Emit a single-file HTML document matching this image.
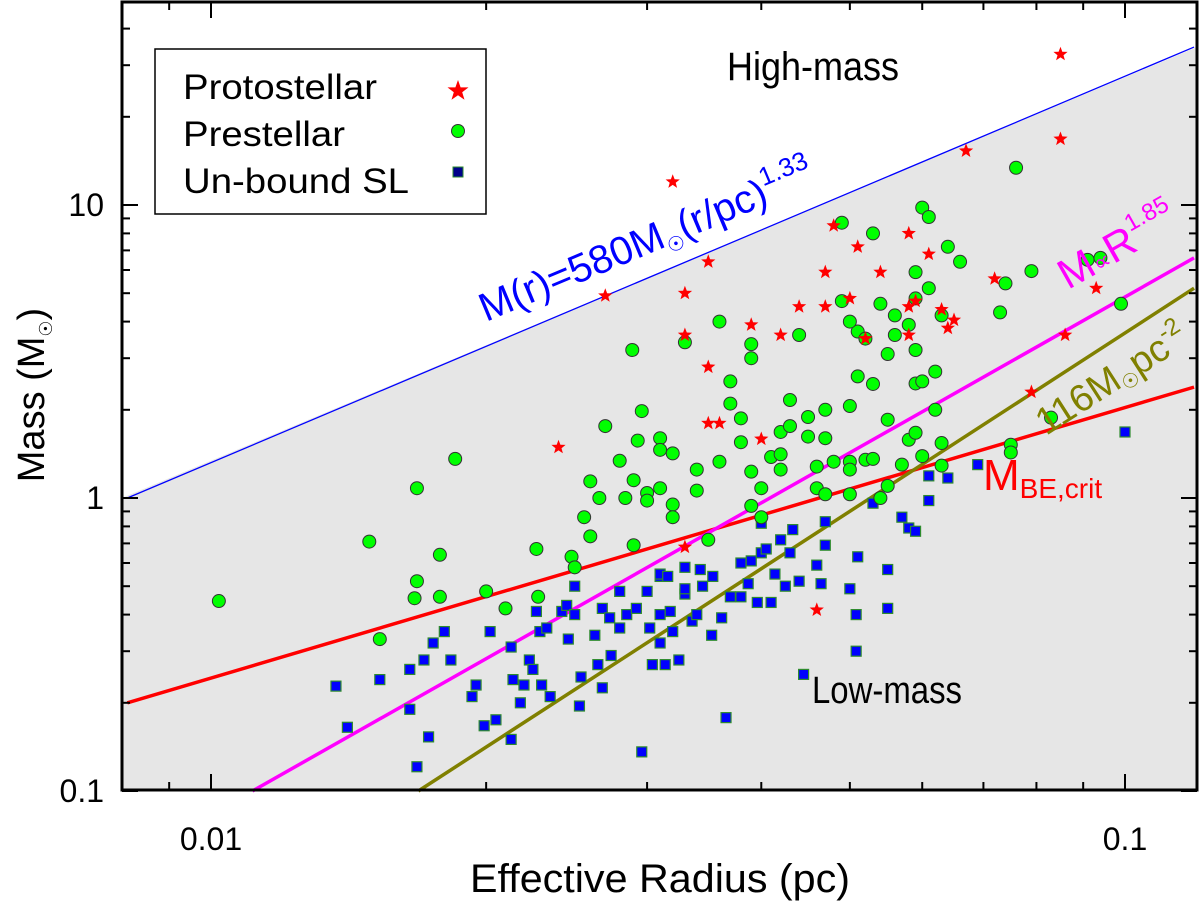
<!DOCTYPE html>
<html><head><meta charset="utf-8"><style>
body{margin:0;background:#fff;}
svg{display:block;font-family:"Liberation Sans",sans-serif;}
</style></head><body>
<svg id="chart" width="1200" height="909" xmlns="http://www.w3.org/2000/svg">
<g id="bg"></g><g id="lines"></g><g id="pts"></g><g id="axes"></g>
</svg>
<script>
const protoR=[0.085,0.085,0.067,0.032,0.027,0.035,0.033,0.048,0.058,0.061,0.051,0.054,0.047,0.050,0.047,0.044,0.058,0.063,0.059,0.065,0.064,0.058,0.052,0.072,0.093,0.086,0.079,0.039,0.033,0.042,0.035,0.035,0.036,0.040,0.024,0.033,0.046];
const protoM=[32.7,16.8,15.3,12.0,4.9,6.4,5.0,8.5,8.0,6.8,7.2,5.9,5.9,4.8,4.5,4.5,4.5,4.4,4.7,4.05,3.8,3.6,3.5,5.6,5.2,3.6,2.3,3.9,3.6,3.6,2.8,1.8,1.8,1.59,1.49,0.68,0.415];
const preR=[0.0102,0.0153,0.0168,0.0149,0.0168,0.0167,0.0178,0.0178,0.0185,0.0200,0.021,0.0228,0.0227,0.0248,0.025,0.026,0.0256,0.026,0.0266,0.027,0.028,0.029,0.0284,0.0289,0.0293,0.0296,0.030,0.030,0.029,0.031,0.031,0.031,0.032,0.032,0.032,0.033,0.034,0.035,0.034,0.036,0.036,0.037,0.037,0.038,0.038,0.039,0.039,0.039,0.039,0.040,0.040,0.041,0.042,0.042,0.042,0.043,0.043,0.044,0.045,0.045,0.046,0.046,0.047,0.047,0.047,0.048,0.049,0.049,0.050,0.050,0.050,0.051,0.051,0.052,0.052,0.053,0.053,0.054,0.053,0.054,0.055,0.055,0.055,0.056,0.056,0.057,0.058,0.058,0.059,0.059,0.059,0.060,0.060,0.059,0.059,0.060,0.061,0.061,0.062,0.062,0.063,0.063,0.063,0.064,0.073,0.074,0.075,0.075,0.076,0.079,0.083,0.091,0.094,0.099,0.066,0.050,0.050];
const preM=[0.445,0.33,1.08,0.71,0.52,0.455,0.46,0.64,1.36,0.48,0.42,0.46,0.67,0.63,0.58,0.74,0.86,1.14,1.0,1.76,1.34,1.15,1.0,3.2,1.57,1.98,1.04,0.98,0.69,1.6,1.46,1.08,1.42,0.95,0.86,3.4,1.06,0.72,1.25,4.0,1.33,2.1,2.5,1.87,1.55,3.35,3.0,1.23,0.94,0.86,1.08,1.38,1.41,1.25,1.68,2.16,1.76,3.6,1.89,1.62,1.28,1.08,1.03,2.0,1.6,1.33,4.7,8.7,1.33,1.25,1.03,3.7,2.6,3.5,1.35,1.36,2.45,4.6,8.0,1.0,1.1,3.1,1.85,4.2,3.6,1.3,1.58,3.9,3.2,2.46,1.67,1.39,2.5,5.9,4.8,9.8,9.1,5.2,2.7,2.0,1.54,1.29,4.2,7.2,4.3,5.4,1.52,1.43,13.4,5.95,1.88,6.5,6.6,4.6,6.4,2.06,4.0];
const slR=[0.0137,0.0141,0.0153,0.0165,0.0165,0.0168,0.0171,0.0175,0.0173,0.0183,0.018,0.0193,0.0195,0.0199,0.0202,0.0205,0.0214,0.0213,0.0218,0.0213,0.022,0.0223,0.0225,0.0227,0.0229,0.023,0.0233,0.0235,0.0242,0.0245,0.0246,0.025,0.025,0.0253,0.0254,0.0263,0.0265,0.0268,0.0268,0.0273,0.0274,0.028,0.028,0.0285,0.0292,0.0296,0.030,0.0302,0.0304,0.031,0.031,0.031,0.0314,0.031,0.0316,0.0318,0.032,0.0325,0.033,0.033,0.033,0.0336,0.034,0.0343,0.0345,0.0354,0.0353,0.0362,0.0366,0.037,0.038,0.038,0.0387,0.039,0.0396,0.040,0.040,0.0405,0.041,0.0414,0.042,0.0425,0.043,0.0433,0.044,0.046,0.047,0.0465,0.047,0.0445,0.050,0.051,0.0508,0.0508,0.053,0.055,0.055,0.057,0.058,0.059,0.061,0.061,0.064,0.069,0.10];
const slM=[0.228,0.165,0.24,0.26,0.19,0.121,0.28,0.32,0.153,0.28,0.35,0.21,0.23,0.167,0.35,0.175,0.24,0.31,0.20,0.15,0.23,0.28,0.26,0.41,0.35,0.23,0.36,0.21,0.41,0.43,0.33,0.5,0.40,0.195,0.245,0.34,0.27,0.225,0.42,0.39,0.29,0.48,0.36,0.4,0.42,0.136,0.48,0.36,0.27,0.54,0.4,0.32,0.27,0.55,0.54,0.41,0.35,0.28,0.47,0.49,0.58,0.38,0.40,0.57,0.5,0.54,0.34,0.39,0.178,0.46,0.6,0.46,0.51,0.61,0.44,0.65,0.82,0.67,0.44,0.55,0.72,0.5,0.65,0.78,0.52,0.59,0.83,0.51,0.69,0.25,0.49,0.63,0.30,0.40,0.96,0.57,0.42,0.86,0.79,0.77,1.19,0.98,1.17,1.3,1.68];
const lineNames=['blue-line','red-be-line','magenta-line','olive-line'];
const lineColors=['#0000ff','#ff0000','#ff00ff','#808000'];
const lineWidths=[1.3,3.5,3.5,3.5];
const lineR0=[0.0081,0.0081,0.0111,0.01686];
const lineM0=[1.0,0.2,0.1,0.1];
const lineR1=[0.119,0.119,0.119,0.119];
const lineM1=[34.6,2.39,6.6,5.2];
const xTickVals=[0.01,0.1];
const xTickLabels=['0.01','0.1'];
const yTickVals=[0.1,1,10];
const yTickLabels=['0.1','1','10'];

const L=122,R=1197,T=2,B=790;
const X=v=>211+914*(Math.log10(v)+2);
const Y=v=>498-293*Math.log10(v);
const NS='http://www.w3.org/2000/svg';
function mk(tag,attrs,parent){const e=document.createElementNS(NS,tag);for(const k in attrs)e.setAttribute(k,attrs[k]);parent.appendChild(e);return e;}
const bg=document.getElementById('bg'),lg=document.getElementById('lines'),pg=document.getElementById('pts'),ag=document.getElementById('axes');
const shade=mk('polygon',{points:`${L},${Y(lineM0[0])} ${R},${Y(lineM1[0])} ${R},${B} ${L},${B}`,fill:'#e6e6e6'},bg);


for(let i=0;i<lineNames.length;i++){
  const l=mk('line',{x1:X(lineR0[i]),y1:Y(lineM0[i]),x2:X(lineR1[i]),y2:Y(lineM1[i]),stroke:lineColors[i],'stroke-width':lineWidths[i]},lg);
  
  
}
function star(cx,cy,r){let p=[];for(let k=0;k<10;k++){const a=-Math.PI/2+k*Math.PI/5;const rr=k%2?r*0.42:r;p.push((cx+rr*Math.cos(a)).toFixed(1)+','+(cy+rr*Math.sin(a)).toFixed(1));}return p.join(' ');}
for(let i=0;i<slR.length;i++){
  const s=mk('rect',{x:X(slR[i])-5,y:Y(slM[i])-5,width:10,height:10,fill:'#0000ff',stroke:'#2e8b2e','stroke-width':1.2},pg);
  
  
}
for(let i=0;i<preR.length;i++){
  const c=mk('circle',{cx:X(preR[i]),cy:Y(preM[i]),r:6.5,fill:'#00ff00',stroke:'#333','stroke-width':1},pg);
  
  
}
for(let i=0;i<protoR.length;i++){
  const s=mk('polygon',{points:star(X(protoR[i]),Y(protoM[i]),7.5),fill:'#ff0000'},pg);
  
  
}
function tick(x1,y1,x2,y2){mk('line',{x1,y1,x2,y2,stroke:'#000','stroke-width':2},ag);}
const xMinor=[0.009,0.02,0.03,0.04,0.05,0.06,0.07,0.08,0.09];
xMinor.forEach(v=>{tick(X(v),B,X(v),B-8);tick(X(v),T,X(v),T+8);});
xTickVals.forEach((v,i)=>{tick(X(v),B,X(v),B-16);tick(X(v),T,X(v),T+16);
  const t=mk('text',{x:X(v),y:B+60,'font-size':32,'text-anchor':'middle'},ag);t.textContent=xTickLabels[i];
  
  });
const yMinor=[0.2,0.3,0.4,0.5,0.6,0.7,0.8,0.9,2,3,4,5,6,7,8,9,20,30,40];
yMinor.forEach(v=>{tick(L,Y(v),L+8,Y(v));tick(R,Y(v),R-8,Y(v));});
yTickVals.forEach((v,i)=>{tick(L,Y(v),L+16,Y(v));tick(R,Y(v),R-16,Y(v));
  const t=mk('text',{x:104,y:Y(v)+11,'font-size':32,'text-anchor':'end'},ag);t.textContent=yTickLabels[i];
  
  });
const fr=mk('rect',{x:L,y:T,width:R-L,height:B-T,fill:'none',stroke:'#000','stroke-width':3},ag);


</script>
<svg width="1200" height="909" style="position:absolute;left:0;top:0" xmlns="http://www.w3.org/2000/svg" font-family="Liberation Sans, sans-serif">
<g>
<rect x="155" y="49" width="331" height="165" fill="#fff" stroke="#000" stroke-width="1.5"/>
<text x="183" y="99" font-size="35" textLength="194" lengthAdjust="spacingAndGlyphs">Protostellar</text>
<polygon points="458,80 460.6,87.4 468.5,87.4 462.2,92.2 464.5,99.8 458,95.3 451.5,99.8 453.8,92.2 447.5,87.4 455.4,87.4" fill="#ff0000"/>
<text x="183" y="146" font-size="35" textLength="162" lengthAdjust="spacingAndGlyphs">Prestellar</text>
<circle cx="458" cy="131" r="6.5" fill="#00ff00" stroke="#333"/>
<text x="183" y="193" font-size="35" textLength="226" lengthAdjust="spacingAndGlyphs">Un-bound SL</text>
<rect x="453" y="167" width="10" height="10" fill="#00008b" stroke="#2e8b2e"/>
</g>
<text x="727" y="80" font-size="40" textLength="172" lengthAdjust="spacingAndGlyphs">High-mass</text>
<text x="812" y="703" font-size="38" textLength="150" lengthAdjust="spacingAndGlyphs">Low-mass</text>
<text transform="translate(486,322) rotate(-22.7)" font-size="40" fill="#0000ff">M(r)=580M<tspan font-family="DejaVu Sans" font-size="20" dy="8">☉</tspan><tspan dy="-8">(r/pc)</tspan><tspan font-size="26" dy="-18">1.33</tspan></text>
<text transform="translate(1068,290) rotate(-29.5)" font-size="42" fill="#ff00ff">M<tspan font-size="24">∝</tspan>R<tspan font-size="24" dy="-20">1.85</tspan></text>
<text transform="translate(1046,436) rotate(-32.7)" font-size="38" fill="#808000">116M<tspan font-family="DejaVu Sans" font-size="20" dy="6">☉</tspan><tspan dy="-6">pc</tspan><tspan font-size="24" dy="-16">-2</tspan></text>
<text x="983" y="490" font-size="44" fill="#ff0000">M<tspan font-size="28" dy="8">BE,crit</tspan></text>
<text transform="translate(44,395) rotate(-90)" font-size="38" text-anchor="middle">Mass (M<tspan font-family="DejaVu Sans" font-size="18" dy="8">☉</tspan><tspan dy="-8">)</tspan></text>
<text x="660" y="892" font-size="40" text-anchor="middle" textLength="380" lengthAdjust="spacingAndGlyphs">Effective Radius (pc)</text>
</svg>
</body></html>
